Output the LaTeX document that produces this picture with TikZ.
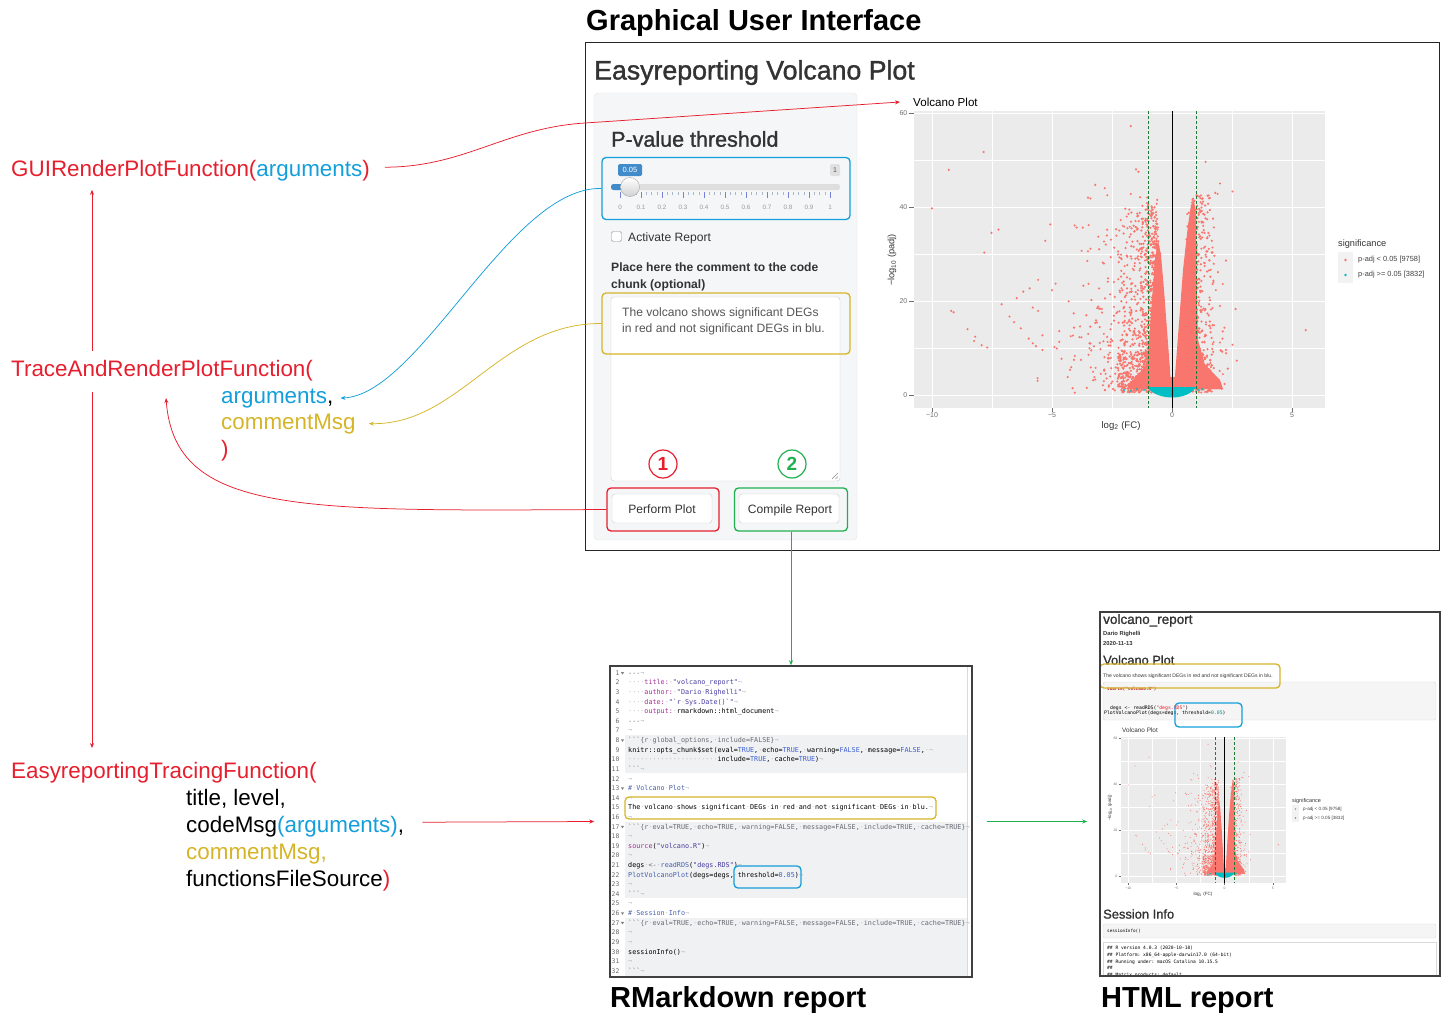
\documentclass[tikz,border=0pt]{standalone}
\usepackage{fontspec}
\setmainfont{Liberation Sans}
\setmonofont{DejaVu Sans Mono}
\newfontfamily\medfont[FakeBold=1.3]{Liberation Sans}
\usetikzlibrary{arrows.meta}
\definecolor{rd}{RGB}{230,30,45}
\definecolor{bl}{RGB}{20,158,218}
\definecolor{yl}{RGB}{214,180,40}
\definecolor{gr}{RGB}{30,176,80}
\definecolor{salmon}{HTML}{F8766D}
\definecolor{cyanp}{HTML}{00BFC4}
\definecolor{panelg}{HTML}{EBEBEB}
\definecolor{txtd}{HTML}{333333}
\definecolor{txtm}{HTML}{555555}
\definecolor{axg}{HTML}{6E6E6E}
\definecolor{dkgreen}{HTML}{1E7B34}
\definecolor{wsgray}{RGB}{185,185,185}
\definecolor{keyc}{RGB}{165,45,150}
\definecolor{strc}{RGB}{70,60,160}
\definecolor{cmtc}{RGB}{70,95,175}
\definecolor{boolc}{RGB}{60,95,210}
\definecolor{hdrc}{RGB}{105,105,115}
\definecolor{chunkbg}{HTML}{F0F1F2}
\definecolor{sidebg}{HTML}{F5F6F7}
\definecolor{sideln}{HTML}{E3E3E3}
\definecolor{btnln}{HTML}{CCCCCC}
\definecolor{sblue}{HTML}{428BCA}
\definecolor{tickc}{HTML}{A9B8C8}
\catcode`·=\active
\def·{\textcolor{wsgray}{\char"00B7}}
\catcode`¬=\active
\def¬{\textcolor{wsgray}{\char"00AC}}
\newcommand\fs[1]{\fontsize{#1}{#1}\selectfont}
\newcommand\ckey[1]{\textcolor{keyc}{#1}}
\newcommand\cstr[1]{\textcolor{strc}{#1}}
\newcommand\cbool[1]{\textcolor{boolc}{#1}}
\newcommand\chdr[1]{\textcolor{hdrc}{#1}}
\newcommand\ccmt[1]{\textcolor{cmtc}{#1}}
\newcommand\cfun[1]{\textcolor{cmtc}{#1}}
\newcommand\codeline[2]{\node[codeln] at (628,{675.3+(#1-1)*9.61}) {#2};}
\newcommand\vdot[2]{\fill[salmon] ({258+24*(#1)},{284-4.7*(#2)}) circle[radius=1.2];}
\newcommand\volcanopanel[1]{%
  \fill[panelg] (0,0) rectangle (411,297);
  \foreach \yy in {49,143,237}{\draw[white,line width=#1*0.45pt] (0,\yy) -- (411,\yy);}
  \foreach \xx in {78,198,318}{\draw[white,line width=#1*0.45pt] (\xx,0) -- (\xx,297);}
  \foreach \yy in {2,96,190,284}{\draw[white,line width=#1*1pt] (0,\yy) -- (411,\yy);}
  \foreach \xx in {18,138,258,378}{\draw[white,line width=#1*1pt] (\xx,0) -- (\xx,297);}
  \pgfmathsetseed{11}%
  \foreach \i in {1,...,650}{%
    \pgfmathsetmacro\pv{0.5+43*rnd*sqrt(rnd)}%
    \pgfmathsetmacro\fcv{-(0.6+3.9*rnd*rnd)}%
    \vdot{\fcv}{\pv}}
  \foreach \i in {1,...,550}{%
    \pgfmathsetmacro\pv{0.5+40*rnd}%
    \pgfmathsetmacro\fcv{-(0.04+0.015*\pv+0.12*rnd+1.4*rnd*rnd)}%
    \vdot{\fcv}{\pv}}
  \foreach \i in {1,...,300}{%
    \pgfmathsetmacro\pv{0.5+9*rnd}%
    \pgfmathsetmacro\fcv{-(0.4+1.9*rnd)}%
    \vdot{\fcv}{\pv}}
  \foreach \i in {1,...,480}{%
    \pgfmathsetmacro\pv{0.5+42*rnd}%
    \pgfmathsetmacro\fcv{0.07+0.018*\pv+0.12*rnd+1.1*rnd*rnd}%
    \vdot{\fcv}{\pv}}
  \foreach \i in {1,...,250}{%
    \pgfmathsetmacro\pv{0.5+40*rnd*sqrt(rnd)}%
    \pgfmathsetmacro\fcv{0.6+2.0*rnd*rnd}%
    \vdot{\fcv}{\pv}}
  \foreach \i in {1,...,150}{%
    \pgfmathsetmacro\pv{0.5+8*rnd}%
    \pgfmathsetmacro\fcv{0.4+1.3*rnd}%
    \vdot{\fcv}{\pv}}
  \fill[salmon] (244,129) -- (241,149) -- (238,189) -- (235,229) -- (232,254) -- (221,267) -- (212,275) -- (257,278) -- (256,259) -- (253,219) -- (250,179) -- (247,144) -- cycle;
  \fill[salmon] (260,278) -- (269,159) -- (274,114) -- (277,94) -- (280,89) -- (282,104) -- (282,149) -- (283,189) -- (284,229) -- (291,254) -- (306,269) -- (309,278) -- cycle;
  \fill[salmon] (212,278) -- (226,266) -- (290,266) -- (306,278) -- cycle;
  \foreach \fc/\pv in {-10/39.7,-9.3/47.9,-7.85/51.7,-9.2/17.9,-9.1/17.6,-8.52/14,-8.2/12.4,-8.25/11.5,-7.93/10.6,-7.7/10.1,-7.82/30.3,-7.52/34.5,-7.23/35.2,-7.1/19.3,-6.77/16.7,-6.58/15.5,-6.3/14.2,-6.47/20.6,-6.2/22,-5.93/22.7,-5.8/18.6,-5.97/12,-5.8/11,-5.67/10.4,-5.58/24.5,-5.58/17.9,-5.4/12.7,-5.28/32.8,-5.07/36.3,-5.0/22.3,-4.85/23.7,-4.9/10.2,-4.8/9.9,-4.7/11.3,-4.6/7.7,-5.6/3.6,-5.6/3.0,-5.4/9.6,-4.7/13.6,5.57/13.8,2.7/7.3,2.65/18.3,2.52/10.7,2.25/9.6,2.25/28.6,2.52/43.3,2.0/45,1.4/49.6,-1.72/57.2,-3.2/44.7,-1.5/48,-1.4/47.5,1.8/43,1.9/42.8,-3.5/42,-2.8/44,-3.4/41.8,-2.7/42.5}{%
    \vdot{\fc}{\pv}}
  \fill[cyanp] (233,276) -- (282,276) .. controls (277,284) and (266,286.5) .. (258,286.5) .. controls (250,286.5) and (239,284) .. (233,276) -- cycle;
  \foreach \xx/\yy in {210/279,217/280,223/278,230/279,284/279,288/278}{\fill[cyanp] (\xx,\yy) circle[radius=1.2];}
  \draw[black,line width=#1*0.8pt] (258,0) -- (258,297);
  \draw[dkgreen,line width=#1*0.9pt,dash pattern=on 3pt off 2pt] (234,0) -- (234,297);
  \draw[dkgreen,line width=#1*0.9pt,dash pattern=on 3pt off 2pt] (282,0) -- (282,297);
}
\begin{document}
\begin{tikzpicture}[x=1pt,y=-1pt,
  lt/.style={inner sep=0pt, anchor=base west},
  big/.style={font=\fs{22.4}},
  ttl/.style={inner sep=0pt, anchor=base west, font=\bfseries\fs{29}},
  redarr/.style={draw=rd, line width=0.75pt, -{Stealth[length=5pt,width=4pt]}},
  blarr/.style={draw=bl, line width=0.75pt, -{Stealth[length=5pt,width=4pt]}},
  ylarr/.style={draw=yl, line width=0.75pt, -{Stealth[length=5pt,width=4pt]}},
  grarr/.style={draw=gr, line width=0.75pt, -{Stealth[length=5pt,width=4pt]}},
  hl/.style={draw=#1, line width=1.3pt, rounded corners=4pt, inner sep=0pt},
  codeln/.style={inner sep=0pt, anchor=base west, font=\ttfamily\fs{6.75}},
  numln/.style={inner sep=0pt, anchor=base east, font=\ttfamily\fs{6.3}, text=black!60},
  ticklbl/.style={inner sep=0pt, font=\fs{6.3}, text=black!40},
  btn/.style={draw=btnln, fill=white, rounded corners=3pt},
  axlbl/.style={inner sep=0pt, text=axg},
]
\useasboundingbox (0,0) rectangle (1447,1012);

% ---------- titles
\node[ttl] (tgui) at (586,30.5) {Graphical User Interface};
\node[ttl] (trmd) at (610,1007) {RMarkdown report};
\node[ttl] (thtml) at (1101,1007) {HTML report};

% ---------- left texts
\node[lt, big, text=rd] (gui) at (11,176) {GUIRenderPlotFunction(\textcolor{bl}{arguments})};
\node[lt, big, text=rd] (trace) at (11,376) {TraceAndRenderPlotFunction(};
\node[lt, big, text=bl] (targ) at (221,403) {arguments\textcolor{black}{,}};
\node[lt, big, text=yl] (tcm) at (221,429) {commentMsg};
\node[lt, big, text=rd] (tcl) at (221,456) {)};
\node[lt, big, text=rd] (easy) at (11,778) {EasyreportingTracingFunction(};
\node[lt, big] (e1) at (186,805) {title, level,};
\node[lt, big] (e2) at (186,832) {codeMsg\textcolor{bl}{(arguments)},};
\node[lt, big, text=yl] (e3) at (186,859) {commentMsg,};
\node[lt, big] (e4) at (186,886) {functionsFileSource\textcolor{rd}{)}};

% ---------- GUI
\node[draw=black!85, line width=1pt, minimum width=854pt, minimum height=508pt, inner sep=0pt] (guif) at (1012,296) {};
\node[lt, font=\medfont\fs{26.7}, text=txtd] (evp) at (594,79.5) {Easyreporting Volcano Plot};
\draw[sideln, fill=sidebg, rounded corners=4pt] (594,93) rectangle (857,540);
\node[lt, font=\medfont\fs{21.5}, text=txtd] (pvt) at (611,146.7) {P-value threshold};
% slider
\fill[black!13, rounded corners=2.5pt] (611,184) rectangle (840,190);
\fill[sblue, rounded corners=2.5pt] (611,184) rectangle (632,190);
\foreach \k in {0,...,40}{\draw[tickc, line width=0.5pt] ({620+5.25*\k},192) -- ({620+5.25*\k},195);}
\foreach \k/\l in {0/0,1/0.1,2/0.2,3/0.3,4/0.4,5/0.5,6/0.6,7/0.7,8/0.8,9/0.9,10/1}{
  \draw[tickc!70!blue, line width=0.6pt] ({620+21*\k},192) -- ({620+21*\k},198);
  \node[ticklbl] at ({620+21*\k},207) {\l};}
\shade[top color=white, bottom color=black!18, draw=black!35] (630,187) circle[radius=9.5];
\node[fill=sblue, rounded corners=1.5pt, inner sep=0pt, minimum width=24pt, minimum height=12pt, text=white, font=\fs{7.5}] (v005) at (630,170) {0.05};
\node[fill=black!12, rounded corners=1.5pt, inner sep=0pt, minimum width=10pt, minimum height=12pt, text=black!65, font=\fs{7}] (v1) at (835,170) {1};
\node[hl=bl, minimum width=248pt, minimum height=62pt] (sld) at (726,188.5) {};
% checkbox and labels
\draw[black!45, fill=white, rounded corners=1.5pt] (611.5,231.5) rectangle (621.5,241.5);
\node[lt, font=\fs{12.1}, text=txtd] (act) at (628,241.3) {Activate Report};
\node[lt, font=\bfseries\fs{12.1}, text=txtd] (ph1) at (611,271.3) {Place here the comment to the code};
\node[lt, font=\bfseries\fs{12.1}, text=txtd] (ph2) at (611,288.3) {chunk (optional)};
% textarea
\draw[btnln, fill=white, rounded corners=3pt] (611,297) rectangle (840,481);
\draw[black!45, line width=0.5pt] (832,479) -- (838,473) (835.5,479) -- (838,476.5);
\node[lt, font=\fs{12.1}, text=txtm] (ta1) at (622,316.3) {The volcano shows significant DEGs};
\node[lt, font=\fs{12.1}, text=txtm] (ta2) at (622,332.6) {in red and not significant DEGs in blu.};
\node[hl=yl, minimum width=248pt, minimum height=61pt] (ylb) at (726,323.5) {};
% numbered circles
\node[circle, draw=rd, line width=1.2pt, minimum size=28pt, inner sep=0pt, text=rd, font=\bfseries\fs{19}] (c1) at (663,464) {1};
\node[circle, draw=gr, line width=1.2pt, minimum size=28pt, inner sep=0pt, text=gr, font=\bfseries\fs{19}] (c2) at (792,464) {2};
% buttons
\draw[btn] (612,494) rectangle (712,523);
\node[anchor=base, font=\fs{12.1}, text=txtd, inner sep=0pt] (ppt) at (662,513.3) {Perform Plot};
\draw[btn] (739,494) rectangle (839,523);
\node[anchor=base, font=\fs{12.1}, text=txtd, inner sep=0pt] (crt) at (790,513.3) {Compile Report};
\node[hl=rd, minimum width=112pt, minimum height=43pt] (pp) at (663,509.5) {};
\node[hl=gr, minimum width=113pt, minimum height=43pt] (cr) at (791,509.5) {};

% ---------- big volcano plot
\node[inner sep=0pt, anchor=west, font=\fs{11.6}] (vt) at (913,102) {Volcano Plot};
\begin{scope}[shift={(914,111)}]
  \volcanopanel{1}
\end{scope}
\foreach \yv/\l in {113/60,207/40,301/20,395/0}{
  \node[axlbl, anchor=east, font=\fs{7}] at (907.5,\yv) {\l};
  \draw[axg, line width=0.5pt] (909,\yv) -- (913.5,\yv);}
\foreach \xv/\l in {932/−10,1052/−5,1172/0,1292/5}{
  \node[axlbl, font=\fs{7}] at (\xv,415.5) {\l};
  \draw[axg, line width=0.5pt] (\xv,408) -- (\xv,412);}
\node[rotate=90, inner sep=0pt, font=\fs{9.2}, text=black!80] (ylab) at (892,260) {−log\textsubscript{10} (padj)};
\node[inner sep=0pt, font=\fs{9.6}, text=black!80] (xlab) at (1121,426) {log\textsubscript{2} (FC)};
\node[inner sep=0pt, anchor=west, font=\fs{9.2}, text=black!80] (sig) at (1338,244) {significance};
\fill[black!5] (1338,252) rectangle (1353,283);
\fill[salmon] (1345.5,260) circle[radius=1.3];
\fill[cyanp] (1345.5,275) circle[radius=1.3];
\node[inner sep=0pt, anchor=west, font=\fs{7.4}, text=black!75] (lg1) at (1358,260) {p-adj < 0.05 [9758]};
\node[inner sep=0pt, anchor=west, font=\fs{7.4}, text=black!75] (lg2) at (1358,275) {p-adj >= 0.05 [3832]};

% ---------- RMarkdown code
\fill[chunkbg] (625,735) rectangle (967,773);
\fill[chunkbg] (625,822) rectangle (967,898);
\fill[chunkbg] (625,918) rectangle (967,977);
\draw[black!15] (967,666) -- (967,977);
\foreach \n in {1,...,32}{\node[numln] at (619.5,{675.3+(\n-1)*9.61}) {\n};}
\foreach \n in {1,8,13,17,26,27}{\fill[black!50] (620.8,{672+(\n-1)*9.61}) -- (624.2,{672+(\n-1)*9.61}) -- (622.5,{674.5+(\n-1)*9.61}) -- cycle;}
\codeline{1}{\chdr{---}¬}
\codeline{2}{····\ckey{title:}·\cstr{"volcano\_report"}¬}
\codeline{3}{····\ckey{author:}·\cstr{"Dario·Righelli"}¬}
\codeline{4}{····\ckey{date:}·\cstr{"`r·Sys.Date()`"}¬}
\codeline{5}{····\ckey{output:}·rmarkdown::html\_document¬}
\codeline{6}{\chdr{---}¬}
\codeline{7}{¬}
\codeline{8}{\chdr{```\{r·global\_options,·include=FALSE\}}¬}
\codeline{9}{knitr::opts\_chunk\$set(eval=\cbool{TRUE},·echo=\cbool{TRUE},·warning=\cbool{FALSE},·message=\cbool{FALSE},·¬}
\codeline{10}{······················include=\cbool{TRUE},·cache=\cbool{TRUE})¬}
\codeline{11}{\chdr{```}¬}
\codeline{12}{¬}
\codeline{13}{\ccmt{\#·Volcano·Plot}¬}
\codeline{14}{¬}
\codeline{15}{The·volcano·shows·significant·DEGs·in·red·and·not·significant·DEGs·in·blu.¬}
\codeline{16}{¬}
\codeline{17}{\chdr{```\{r·eval=TRUE,·echo=TRUE,·warning=FALSE,·message=FALSE,·include=TRUE,·cache=TRUE\}}¬}
\codeline{18}{¬}
\codeline{19}{\ckey{source}(\cstr{"volcano.R"})¬}
\codeline{20}{¬}
\codeline{21}{degs·\chdr{<-}·\cfun{readRDS}(\cstr{"degs.RDS"})¬}
\codeline{22}{\cfun{PlotVolcanoPlot}(degs=degs,·threshold=\cbool{0.05})¬}
\codeline{23}{¬}
\codeline{24}{\chdr{```}¬}
\codeline{25}{¬}
\codeline{26}{\ccmt{\#·Session·Info}¬}
\codeline{27}{\chdr{```\{r·eval=TRUE,·echo=TRUE,·warning=FALSE,·message=FALSE,·include=TRUE,·cache=TRUE\}}¬}
\codeline{28}{¬}
\codeline{29}{¬}
\codeline{30}{sessionInfo()¬}
\codeline{31}{¬}
\codeline{32}{\chdr{```}¬}
\node[hl=yl, minimum width=311pt, minimum height=22pt] (cy) at (780.5,808) {};
\node[hl=bl, minimum width=67pt, minimum height=22pt] (cb) at (767.5,877) {};
\node[draw=black!75, line width=1.5pt, minimum width=362pt, minimum height=311pt, inner sep=0pt] (code) at (791,821.5) {};

% ---------- HTML report
\node[lt, font=\medfont\fs{13.5}, text=txtd] (hr1) at (1103,623.9) {volcano\_report};
\node[lt, font=\bfseries\fs{5.8}, text=txtd] (hr2) at (1103,635.1) {Dario Righelli};
\node[lt, font=\bfseries\fs{5.8}, text=txtd] (hr3) at (1103,645.1) {2020-11-13};
\node[lt, font=\medfont\fs{12.8}, text=txtd] (hr4) at (1103,664.6) {Volcano Plot};
\draw[black!15, fill=black!4, rounded corners=2pt] (1103,682) rectangle (1436,720);
\node[lt, font=\ttfamily\bfseries\fs{4.3}, text=rd!80!black] (hs1) at (1107,690.5) {source("volcano.R")};
\node[lt, font=\ttfamily\fs{4.8}] (hs2) at (1110,709.7) {degs <- readRDS(\textcolor{rd}{"degs.RDS"})};
\node[lt, font=\ttfamily\fs{4.8}] (hs3) at (1104,714.7) {PlotVolcanoPlot(degs=degs, threshold=\textcolor{cyanp!70!black}{0.05})};
\node[lt, font=\fs{5.1}, text=txtd] (hcm) at (1103,677.8) {The volcano shows significant DEGs in red and not significant DEGs in blu.};
\node[hl=yl, minimum width=180pt, minimum height=24pt] (hy) at (1190,676) {};
\node[hl=bl, minimum width=67pt, minimum height=24pt] (hb) at (1208.5,715) {};
\node[lt, font=\fs{6.4}, text=txtd] (hvt) at (1122,732.5) {Volcano Plot};
\begin{scope}[shift={(1121,737)}, xscale=0.4015, yscale=0.4916]
  \volcanopanel{0.45}
\end{scope}
\foreach \yv/\l in {738/60,784.2/40,830.4/20,876.6/0}{
  \node[axlbl, anchor=east, font=\fs{3.4}] at (1117.5,\yv) {\l};
  \draw[axg, line width=0.3pt] (1118.5,\yv) -- (1121,\yv);}
\foreach \xv/\l in {1128.2/−10,1176.4/−5,1224.6/0,1272.8/5}{
  \node[axlbl, font=\fs{3.4}] at (\xv,888) {\l};
  \draw[axg, line width=0.3pt] (\xv,883) -- (\xv,885);}
\node[rotate=90, inner sep=0pt, font=\fs{4.5}, text=black!80] (sylab) at (1110,808) {−log\textsubscript{10} (padj)};
\node[inner sep=0pt, font=\fs{4.6}, text=black!80] (sxlab) at (1203,894) {log\textsubscript{2} (FC)};
\node[inner sep=0pt, anchor=west, font=\fs{5.5}, text=black!80] (ssig) at (1292,801) {significance};
\fill[black!5] (1292,805) rectangle (1299,822);
\fill[salmon] (1295.5,809) circle[radius=0.8];
\fill[cyanp] (1295.5,818) circle[radius=0.8];
\node[inner sep=0pt, anchor=west, font=\fs{4.6}, text=black!75] (slg1) at (1303,809) {p-adj < 0.05 [9758]};
\node[inner sep=0pt, anchor=west, font=\fs{4.6}, text=black!75] (slg2) at (1303,818) {p-adj >= 0.05 [3832]};
\node[lt, font=\medfont\fs{12.9}, text=txtd] (hsi) at (1103,918.6) {Session Info};
\draw[black!15, fill=black!4, rounded corners=2pt] (1103,924) rectangle (1436,938);
\node[lt, font=\ttfamily\fs{4.3}] (hsc) at (1107,932.6) {sessionInfo()};
\draw[black!15] (1103,976) -- (1103,942) -- (1436,942) -- (1436,976);
\node[lt, font=\ttfamily\fs{4.6}] (so1) at (1107,949.6) {\#\# R version 4.0.3 (2020-10-10)};
\node[lt, font=\ttfamily\fs{4.6}] (so2) at (1107,956.6) {\#\# Platform: x86\_64-apple-darwin17.0 (64-bit)};
\node[lt, font=\ttfamily\fs{4.6}] (so3) at (1107,963.1) {\#\# Running under: macOS Catalina 10.15.5};
\node[lt, font=\ttfamily\fs{4.6}] (so4) at (1107,969.6) {\#\#};
\node[lt, font=\ttfamily\fs{4.6}] (so5) at (1107,976.1) {\#\# Matrix products: default};
\node[draw=black!75, line width=1.5pt, minimum width=340pt, minimum height=364pt, inner sep=0pt] (html) at (1270,794) {};

% ---------- connectors
\draw[redarr] ([xshift=15pt,yshift=3pt]gui.east) .. controls (465,167) and (505,128) .. (585,123) -- ([xshift=-13pt]vt.west);
\draw[redarr] ([xshift=81pt,yshift=8.5pt]trace.north west) -- ([xshift=81pt,yshift=-9pt]gui.south west);
\draw[redarr] ([xshift=81pt,yshift=-11pt]trace.south west) -- ([xshift=81pt,yshift=13.5pt]easy.north west);
\draw[blarr] (sld.west) .. controls (510,186) and (420,395) .. ([xshift=7pt]targ.east);
\draw[ylarr] (ylb.west) .. controls (500,323) and (460,425) .. ([xshift=13pt]tcm.east);
\draw[redarr] (pp.west) .. controls (300,511) and (175,515) .. ([xshift=155pt,yshift=-17.3pt]trace.south west);
\draw[grarr] (cr.south) -- (code.north);
\draw[redarr] ([xshift=18pt,yshift=4pt]e2.east) -- ([xshift=-15pt]code.west);
\path (code.east -| html.west) coordinate (hw);
\draw[grarr] ([xshift=14pt]code.east) -- ([xshift=-12pt]hw);
\end{tikzpicture}
\end{document}
